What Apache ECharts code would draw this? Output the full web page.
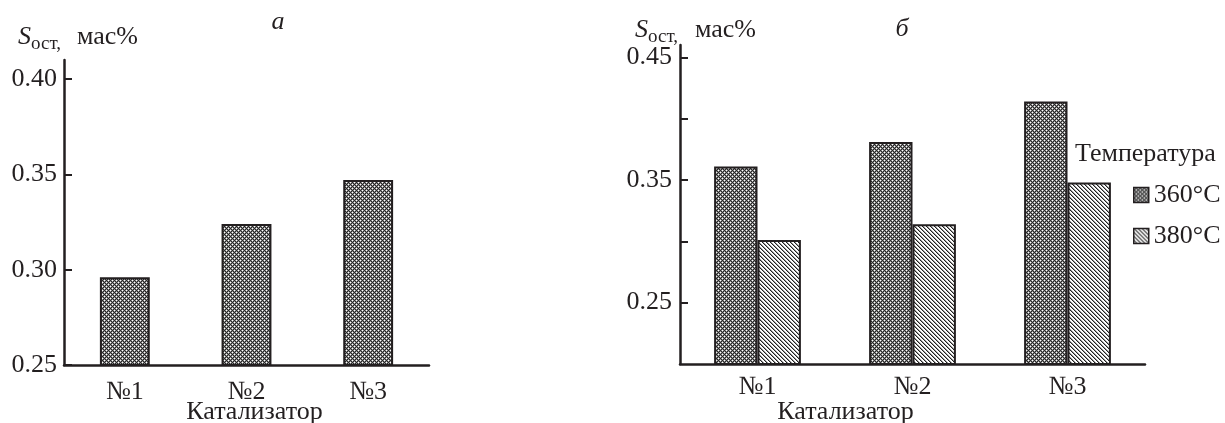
<!DOCTYPE html>
<html>
<head>
<meta charset="utf-8">
<script src="https://cdn.jsdelivr.net/npm/echarts@6/dist/echarts.min.js"></script>
<style>
    html, body { margin: 0; padding: 0; background: #fff; }
    #chart { width: 1225px; height: 423px; }
</style>
</head>
<body>
<div id="chart"></div>
<script>
// данные
const categories = ['№1', '№2', '№3']
const valuesA = [0.296, 0.324, 0.347] // график а
const values360 = [0.361, 0.381, 0.414] // график б, 360°C
const values380 = [0.301, 0.314, 0.348] // график б, 380°C
const seriesNames = ['360°C', '380°C']
const ticksA = [0.25, 0.30, 0.35, 0.40]
const labelsA = [0.25, 0.30, 0.35, 0.40]
const ticksB = [0.25, 0.30, 0.35, 0.40, 0.45]
const labelsB = [0.25, 0.35, 0.45]

const FONT = 'Liberation Serif'
const INK = '#231f20'

// штриховка "сетка" (точки)
function makeDotPattern () {
    let c = document.createElement('canvas')
    c.width = 4
    c.height = 4
    let ctx = c.getContext('2d')
    ctx.fillStyle = '#262626'
    ctx.fillRect(0, 0, 4, 4)
    ctx.fillStyle = '#ffffff'
    ctx.fillRect(0, 0, 1, 1)
    ctx.fillRect(2, 2, 1, 1)
    ctx.fillStyle = '#8c8c8c'
    ;[[1, 0], [0, 1], [3, 0], [0, 3], [3, 2], [2, 3], [1, 2], [2, 1]].forEach(p => ctx.fillRect(p[0], p[1], 1, 1))
    return { image: c, repeat: 'repeat' }
}
// штриховка "\\\"
function makeLinePattern () {
    let c = document.createElement('canvas')
    c.width = 4
    c.height = 4
    let ctx = c.getContext('2d')
    ctx.fillStyle = '#ffffff'
    ctx.fillRect(0, 0, 4, 4)
    for (let i = 0; i < 4; i++) {
        ctx.fillStyle = '#222'
        ctx.fillRect(i, i, 1, 1)
        ctx.fillStyle = '#9a9a9a'
        ctx.fillRect((i + 1) % 4, i, 1, 1)
    }
    return { image: c, repeat: 'repeat' }
}

const dots = makeDotPattern()
const lines = makeLinePattern()

function fmt (v) {
    return v.toFixed(2)
}

let axisLine = { lineStyle: { color: INK, width: 2.5 } }
let axisTick = { inside: true, length: 8, lineStyle: { color: INK, width: 2 } }
let labelStyle = { color: INK, fontFamily: FONT, fontSize: 26 }
let barBorder = { borderColor: INK, borderWidth: 2 }

let myChart = echarts.init(document.getElementById('chart'))
let options = {
    animation: false,
    textStyle: { fontFamily: FONT },
    grid: [
        { left: 64, right: 796, top: 60, bottom: 58, outerBoundsMode: 'none', containLabel: false },
        { left: 680, right: 80, top: 45, bottom: 59, outerBoundsMode: 'none', containLabel: false }
    ],
    xAxis: [
        {
            gridIndex: 0,
            type: 'category',
            data: categories,
            axisLine: axisLine,
            axisTick: axisTick,
            axisLabel: Object.assign({ margin: 14 }, labelStyle),
            name: 'Катализатор',
            nameLocation: 'middle',
            nameGap: 34,
            nameMoveOverlap: false,
            nameTextStyle: Object.assign({ padding: [0, 0, 0, 16] }, labelStyle)
        },
        {
            gridIndex: 1,
            type: 'category',
            data: categories,
            axisLine: axisLine,
            axisTick: axisTick,
            axisLabel: Object.assign({ margin: 10 }, labelStyle),
            name: 'Катализатор',
            nameLocation: 'middle',
            nameGap: 35,
            nameMoveOverlap: false,
            nameTextStyle: Object.assign({ padding: [0, 134, 0, 0] }, labelStyle)
        }
    ],
    yAxis: [
        {
            gridIndex: 0,
            type: 'value',
            min: 0.25,
            max: 0.41,
            interval: 0.05,
            splitLine: { show: false },
            axisLine: Object.assign({ show: true }, axisLine),
            axisTick: Object.assign({ show: true, customValues: ticksA }, axisTick),
            axisLabel: Object.assign({ margin: 7, customValues: labelsA, formatter: fmt }, labelStyle)
        },
        {
            gridIndex: 1,
            type: 'value',
            min: 0.20,
            max: 0.46,
            interval: 0.05,
            splitLine: { show: false },
            axisLine: Object.assign({ show: true }, axisLine),
            axisTick: Object.assign({ show: true, customValues: ticksB }, axisTick),
            axisLabel: Object.assign({ margin: 8, customValues: labelsB, formatter: fmt }, labelStyle)
        }
    ],
    legend: {
        data: seriesNames,
        orient: 'vertical',
        left: 1133,
        top: 182,
        padding: 0,
        itemWidth: 15,
        itemHeight: 15,
        itemGap: 15,
        icon: 'rect',
        itemStyle: { borderColor: INK, borderWidth: 1.5 },
        textStyle: { color: INK, fontFamily: FONT, fontSize: 26 }
    },
    series: [
        {
            name: 'а',
            type: 'bar',
            xAxisIndex: 0,
            yAxisIndex: 0,
            barWidth: '41%',
            itemStyle: Object.assign({ color: dots }, barBorder),
            data: valuesA
        },
        {
            name: seriesNames[0],
            type: 'bar',
            xAxisIndex: 1,
            yAxisIndex: 1,
            barWidth: '28%',
            barGap: '0%',
            itemStyle: Object.assign({ color: dots }, barBorder),
            data: values360
        },
        {
            name: seriesNames[1],
            type: 'bar',
            xAxisIndex: 1,
            yAxisIndex: 1,
            barWidth: '28%',
            barGap: '0%',
            itemStyle: Object.assign({ color: lines }, barBorder),
            data: values380
        }
    ],
    graphic: [
        // подписи панелей
        { type: 'text', x: 278, y: 22, style: { text: 'a', fill: INK, font: 'italic 26px "Liberation Serif"', align: 'center', verticalAlign: 'middle' } },
        { type: 'text', x: 902, y: 29, style: { text: 'б', fill: INK, font: 'italic 26px "Liberation Serif"', align: 'center', verticalAlign: 'middle' } },
        // подпись оси Y (а)
        { type: 'text', x: 18, y: 37, style: { text: 'S', fill: INK, font: 'italic 26px "Liberation Serif"', verticalAlign: 'middle' } },
        { type: 'text', x: 31, y: 44, style: { text: 'ост,', fill: INK, font: '19px "Liberation Serif"', verticalAlign: 'middle' } },
        { type: 'text', x: 77, y: 37, style: { text: 'мас%', fill: INK, font: '26px "Liberation Serif"', verticalAlign: 'middle' } },
        // подпись оси Y (б)
        { type: 'text', x: 635, y: 30.5, style: { text: 'S', fill: INK, font: 'italic 26px "Liberation Serif"', verticalAlign: 'middle' } },
        { type: 'text', x: 648, y: 37.5, style: { text: 'ост,', fill: INK, font: '19px "Liberation Serif"', verticalAlign: 'middle' } },
        { type: 'text', x: 695, y: 30.5, style: { text: 'мас%', fill: INK, font: '26px "Liberation Serif"', verticalAlign: 'middle' } },
        // заголовок легенды
        { type: 'text', x: 1075, y: 154, style: { text: 'Температура', fill: INK, font: '26px "Liberation Serif"', verticalAlign: 'middle' } }
    ]
}
myChart.setOption(options)
</script>
</body>
</html>
